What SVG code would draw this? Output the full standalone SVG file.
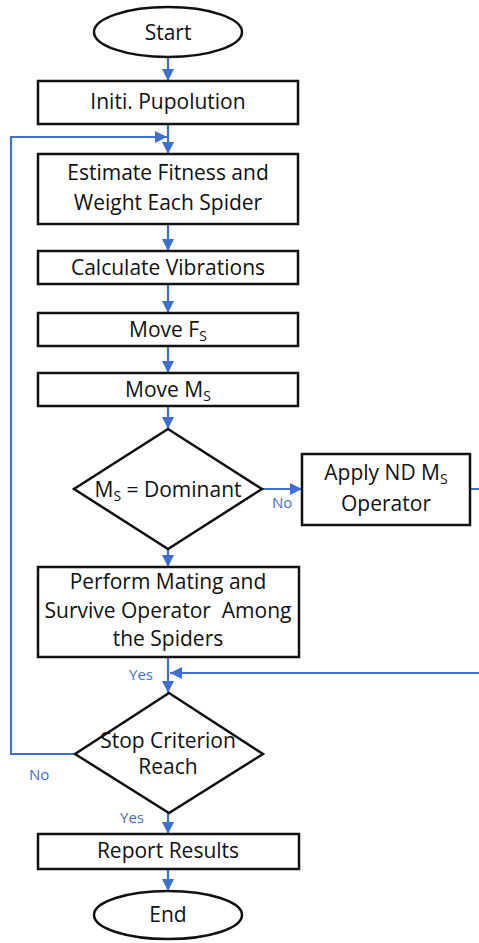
<svg xmlns="http://www.w3.org/2000/svg" width="479" height="943" viewBox="0 0 479 943">
<style>
.box{fill:#fff;stroke:#111;stroke-width:2.5}
.t{font-family:"Open Sans","Liberation Sans",sans-serif;font-size:21px;fill:#111;text-anchor:middle}
.sub{font-size:14px}
.c{fill:none;stroke:#3f6fcf;stroke-width:2.2}
.lbl{font-family:"Open Sans","Liberation Sans",sans-serif;font-size:15px;fill:#3f6fcf}
</style>
<defs>
<marker id="ah" markerUnits="userSpaceOnUse" markerWidth="12" markerHeight="12" viewBox="0 0 10 10" refX="10" refY="5" orient="auto">
<path d="M0,0 L10,5 L0,10 z" fill="#3f6fcf"/>
</marker>
</defs>
<rect width="479" height="943" fill="#fff"/>
<g id="connectors">
<path class="c" d="M168,57 V81" marker-end="url(#ah)"/>
<path class="c" d="M168,124 V154" marker-end="url(#ah)"/>
<path class="c" d="M168,224 V251" marker-end="url(#ah)"/>
<path class="c" d="M168,284 V313" marker-end="url(#ah)"/>
<path class="c" d="M168,346 V373" marker-end="url(#ah)"/>
<path class="c" d="M168,406 V429" marker-end="url(#ah)"/>
<path class="c" d="M168,549 V567" marker-end="url(#ah)"/>
<path class="c" d="M262,489 H302" marker-end="url(#ah)"/>
<path class="c" d="M168,657 V693" marker-end="url(#ah)"/>
<path class="c" d="M168,813 V834" marker-end="url(#ah)"/>
<path class="c" d="M168,869 V891" marker-end="url(#ah)"/>
<path class="c" d="M75,754 H11 V137 H167" marker-end="url(#ah)"/>
<path class="c" d="M470,489 H484 V673 H170" marker-end="url(#ah)"/>
<text class="lbl" x="272" y="508">No</text>
<text class="lbl" x="129" y="680">Yes</text>
<text class="lbl" x="29" y="780">No</text>
<text class="lbl" x="120" y="823">Yes</text>
</g>
<g id="start">
<ellipse class="box" cx="168" cy="32" rx="74" ry="25"/>
<text class="t" x="168" y="40">Start</text>
</g>
<g id="init">
<rect class="box" x="38" y="81" width="260" height="43"/>
<text class="t" x="168" y="109">Initi. Pupolution</text>
</g>
<g id="estimate">
<rect class="box" x="38" y="154" width="260" height="70"/>
<text class="t" x="168" y="180">Estimate Fitness and</text>
<text class="t" x="168" y="210">Weight Each Spider</text>
</g>
<g id="calc">
<rect class="box" x="38" y="251" width="260" height="33"/>
<text class="t" x="168" y="275">Calculate Vibrations</text>
</g>
<g id="movefs">
<rect class="box" x="38" y="313" width="260" height="33"/>
<text class="t" x="168" y="337">Move F<tspan class="sub" dy="4">S</tspan></text>
</g>
<g id="movems">
<rect class="box" x="38" y="373" width="260" height="33"/>
<text class="t" x="168" y="397">Move M<tspan class="sub" dy="4">S</tspan></text>
</g>
<g id="dominant">
<path class="box" d="M168,429 L262,489 L168,549 L74,489 Z"/>
<text class="t" x="168" y="497">M<tspan class="sub" dy="4">S</tspan><tspan dy="-4"> = Dominant</tspan></text>
</g>
<g id="apply">
<rect class="box" x="302" y="454" width="168" height="71"/>
<text class="t" x="386" y="480">Apply ND M<tspan class="sub" dy="4">S</tspan></text>
<text class="t" x="386" y="511">Operator</text>
</g>
<g id="perform">
<rect class="box" x="38" y="567" width="261" height="90"/>
<text class="t" x="168" y="589">Perform Mating and</text>
<text class="t" x="168" y="618" xml:space="preserve" style="white-space:pre">Survive Operator  Among</text>
<text class="t" x="168" y="646">the Spiders</text>
</g>
<g id="stop">
<path class="box" d="M169,693 L263,754 L169,813 L75,754 Z"/>
<text class="t" x="168" y="748">Stop Criterion</text>
<text class="t" x="168" y="774">Reach</text>
</g>
<g id="report">
<rect class="box" x="38" y="834" width="261" height="35"/>
<text class="t" x="168" y="858">Report Results</text>
</g>
<g id="end">
<ellipse class="box" cx="168" cy="915" rx="74" ry="24"/>
<text class="t" x="168" y="922">End</text>
</g>
</svg>
